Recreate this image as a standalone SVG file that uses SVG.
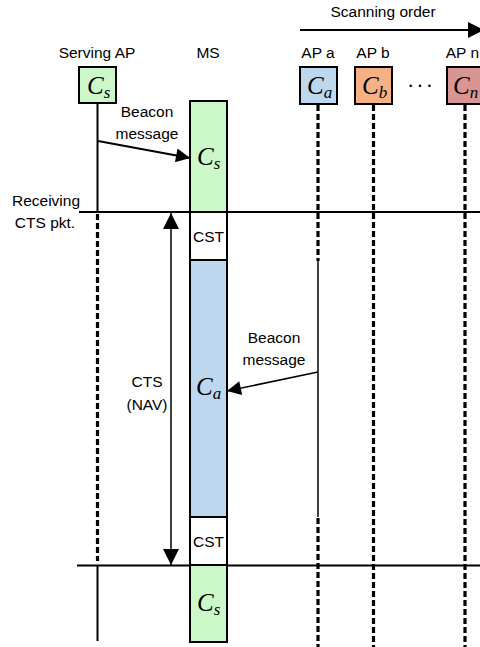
<svg xmlns="http://www.w3.org/2000/svg" width="480" height="647" viewBox="0 0 480 647">
  <defs>
    <style>
      .lbl { font-family: "Liberation Sans", Arial, sans-serif; font-size: 15.5px; fill: #000; text-anchor: middle; }
      .var { font-family: "Liberation Serif", "Times New Roman", serif; font-style: italic; font-size: 25px; fill: #000; }
      .sub { font-size: 17px; }
      .box { stroke: #000; stroke-width: 2; }
      .solid { stroke: #000; stroke-width: 2; fill: none; }
      .thin { stroke: #000; stroke-width: 1.5; fill: none; }
      .dash { stroke: #000; stroke-width: 3.2; fill: none; stroke-dasharray: 6 3; }
    </style>
    <marker id="head" viewBox="0 0 10 10" refX="10" refY="5" markerWidth="16" markerHeight="14" markerUnits="userSpaceOnUse" orient="auto">
      <path d="M0,0 L10,5 L0,10 Z" fill="#000"/>
    </marker>
    <marker id="headStart" viewBox="0 0 10 10" refX="10" refY="5" markerWidth="16" markerHeight="16" markerUnits="userSpaceOnUse" orient="auto-start-reverse">
      <path d="M0,0 L10,5 L0,10 Z" fill="#000"/>
    </marker>
  </defs>
  <rect width="480" height="647" fill="#fff"/>

  <!-- scanning order -->
  <g id="scanning-order">
    <text class="lbl" x="383" y="17">Scanning order</text>
    <line x1="300" y1="30" x2="484" y2="30" class="solid" marker-end="url(#headStart)"/>
  </g>

  <!-- lifelines and timeline markers -->
  <g id="connectors">
    <!-- serving AP -->
    <line x1="97.5" y1="103" x2="97.5" y2="212" class="solid"/>
    <line x1="97.5" y1="214" x2="97.5" y2="561" class="dash"/>
    <line x1="97.5" y1="565" x2="97.5" y2="641" class="solid"/>
    <!-- AP a -->
    <line x1="318" y1="105" x2="318" y2="261" class="dash"/>
    <line x1="318" y1="261" x2="318" y2="517" class="thin"/>
    <line x1="318" y1="518" x2="318" y2="647" class="dash"/>
    <!-- AP b, AP n -->
    <line x1="373.5" y1="105" x2="373.5" y2="647" class="dash"/>
    <line x1="465" y1="105" x2="465" y2="647" class="dash"/>
    <!-- time boundaries -->
    <line x1="79" y1="212" x2="480" y2="212" class="solid"/>
    <line x1="77" y1="565.5" x2="480" y2="565.5" class="solid"/>
    <!-- CTS (NAV) duration -->
    <line x1="171" y1="213" x2="171" y2="565" class="thin" marker-start="url(#headStart)" marker-end="url(#headStart)"/>
    <!-- beacon messages -->
    <line x1="98" y1="141" x2="190" y2="158" class="solid" marker-end="url(#head)"/>
    <line x1="318" y1="372" x2="227" y2="391" class="thin" marker-end="url(#head)"/>
  </g>

  <!-- labels -->
  <g id="labels">
    <text class="lbl" x="46" y="206">Receiving</text>
    <text class="lbl" x="45" y="228">CTS pkt.</text>
    <text class="lbl" x="147" y="117">Beacon</text>
    <text class="lbl" x="147" y="139">message</text>
    <text class="lbl" x="274" y="343">Beacon</text>
    <text class="lbl" x="274" y="365">message</text>
    <text class="lbl" x="147" y="387">CTS</text>
    <text class="lbl" x="147" y="410">(NAV)</text>
  </g>

  <!-- serving AP -->
  <g id="serving-ap">
    <text class="lbl" x="97" y="58">Serving AP</text>
    <rect x="79" y="67" width="37" height="36" fill="#ccf7c8" class="box"/>
    <text class="var" x="87" y="94">C<tspan class="sub" dy="4">s</tspan></text>
  </g>

  <!-- MS -->
  <g id="ms">
    <text class="lbl" x="208" y="58">MS</text>
    <rect x="190" y="101" width="37" height="111" fill="#ccf7c8" class="box"/>
    <text class="var" x="197" y="165">C<tspan class="sub" dy="4">s</tspan></text>
    <rect x="190" y="212" width="37" height="48" fill="#fff" class="box"/>
    <text class="lbl" x="208.5" y="242">CST</text>
    <rect x="190" y="260" width="37" height="257" fill="#bdd7ee" class="box"/>
    <text class="var" x="196" y="395">C<tspan class="sub" dy="4">a</tspan></text>
    <rect x="190" y="517" width="37" height="48" fill="#fff" class="box"/>
    <text class="lbl" x="208.5" y="547">CST</text>
    <rect x="190" y="565" width="37" height="77" fill="#ccf7c8" class="box"/>
    <text class="var" x="197" y="611">C<tspan class="sub" dy="4">s</tspan></text>
  </g>

  <!-- AP a -->
  <g id="ap-a">
    <text class="lbl" x="318" y="58">AP a</text>
    <rect x="300" y="67" width="37" height="37" fill="#bdd7ee" class="box"/>
    <text class="var" x="307" y="94">C<tspan class="sub" dy="4">a</tspan></text>
  </g>

  <!-- AP b -->
  <g id="ap-b">
    <text class="lbl" x="373" y="58">AP b</text>
    <rect x="355" y="67" width="37" height="37" fill="#f5b183" class="box"/>
    <text class="var" x="362" y="94">C<tspan class="sub" dy="4">b</tspan></text>
  </g>

  <text class="lbl" x="421" y="92" style="font-size:22px;letter-spacing:2px">···</text>

  <!-- AP n -->
  <g id="ap-n">
    <text class="lbl" x="479" y="58" style="text-anchor:end">AP n</text>
    <rect x="447" y="67" width="38" height="37" fill="#d99594" class="box"/>
    <text class="var" x="453" y="94">C<tspan class="sub" dy="4">n</tspan></text>
  </g>
</svg>
